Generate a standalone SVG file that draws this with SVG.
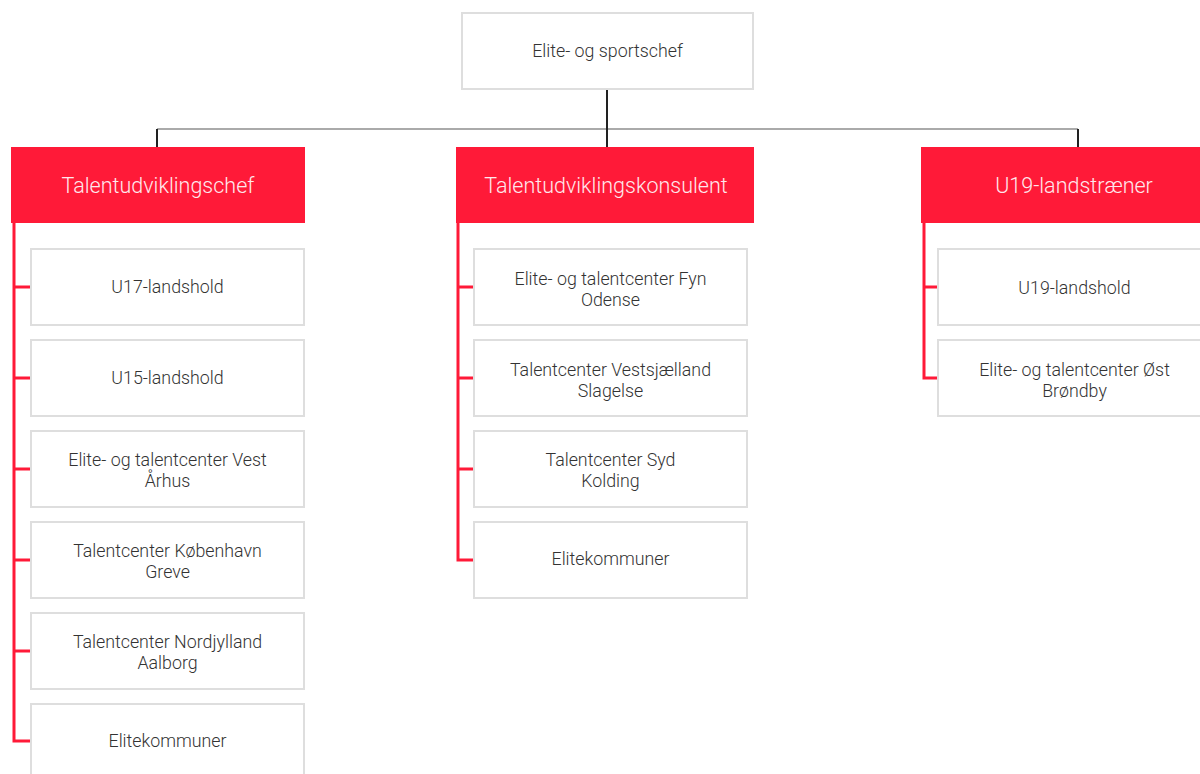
<svg xmlns="http://www.w3.org/2000/svg" width="1200" height="774" viewBox="0 0 1200 774">
<style>
.box{fill:#fff;stroke:#dedede;stroke-width:2}
.head{fill:#ff1a38}
.t{font-family:Roboto,"Liberation Sans",sans-serif;font-weight:300;font-size:17.8px;fill:#333;text-anchor:middle}
.h{font-family:Roboto,"Liberation Sans",sans-serif;font-weight:300;font-size:21.5px;fill:#ffe8ec;text-anchor:middle}
.red{fill:none;stroke:#ff1a38;stroke-width:3}
.blk{fill:none;stroke:#222;stroke-width:2}
.gry{fill:none;stroke:#aaa;stroke-width:2}
</style>
<g id="connectors">
<path class="gry" d="M157 129H1078"/>
<path class="blk" d="M607 89V148M157 129V148M1078 129V148"/>
<path class="red" d="M14 222V741H31M14 287H31M14 378H31M14 469H31M14 560H31M14 651H31"/>
<path class="red" d="M458 222V560H474M458 287H474M458 378H474M458 469H474"/>
<path class="red" d="M924 222V378H938M924 287H938"/>
</g>
<g id="n0"><rect class="box" x="462" y="13" width="291" height="76"/><text class="t" x="607.5" y="57">Elite- og sportschef</text></g>
<g id="h1"><rect class="head" x="11" y="147" width="294" height="76"/><text class="h" x="158" y="193">Talentudviklingschef</text></g>
<g id="h2"><rect class="head" x="456" y="147" width="298" height="76"/><text class="h" x="606" y="193">Talentudviklingskonsulent</text></g>
<g id="h3"><rect class="head" x="921" y="147" width="306" height="76"/><text class="h" x="1074" y="193">U19-landstræner</text></g>
<g id="a1"><rect class="box" x="31" y="249" width="273" height="76"/><text class="t" x="167.5" y="293">U17-landshold</text></g>
<g id="a2"><rect class="box" x="31" y="340" width="273" height="76"/><text class="t" x="167.5" y="384">U15-landshold</text></g>
<g id="a3"><rect class="box" x="31" y="431" width="273" height="76"/><text class="t" x="167.5" y="466">Elite- og talentcenter Vest</text><text class="t" x="167.5" y="487">Århus</text></g>
<g id="a4"><rect class="box" x="31" y="522" width="273" height="76"/><text class="t" x="167.5" y="557">Talentcenter København</text><text class="t" x="167.5" y="578">Greve</text></g>
<g id="a5"><rect class="box" x="31" y="613" width="273" height="76"/><text class="t" x="167.5" y="648">Talentcenter Nordjylland</text><text class="t" x="167.5" y="669">Aalborg</text></g>
<g id="a6"><rect class="box" x="31" y="704" width="273" height="76"/><text class="t" x="167.5" y="747">Elitekommuner</text></g>
<g id="b1"><rect class="box" x="474" y="249" width="273" height="76"/><text class="t" x="610.5" y="285">Elite- og talentcenter Fyn</text><text class="t" x="610.5" y="306">Odense</text></g>
<g id="b2"><rect class="box" x="474" y="340" width="273" height="76"/><text class="t" x="610.5" y="376">Talentcenter Vestsjælland</text><text class="t" x="610.5" y="397">Slagelse</text></g>
<g id="b3"><rect class="box" x="474" y="431" width="273" height="76"/><text class="t" x="610.5" y="466">Talentcenter Syd</text><text class="t" x="610.5" y="487">Kolding</text></g>
<g id="b4"><rect class="box" x="474" y="522" width="273" height="76"/><text class="t" x="610.5" y="565">Elitekommuner</text></g>
<g id="c1"><rect class="box" x="938" y="249" width="273" height="76"/><text class="t" x="1074.5" y="294">U19-landshold</text></g>
<g id="c2"><rect class="box" x="938" y="340" width="273" height="76"/><text class="t" x="1074.5" y="376">Elite- og talentcenter Øst</text><text class="t" x="1074.5" y="397">Brøndby</text></g>
</svg>
